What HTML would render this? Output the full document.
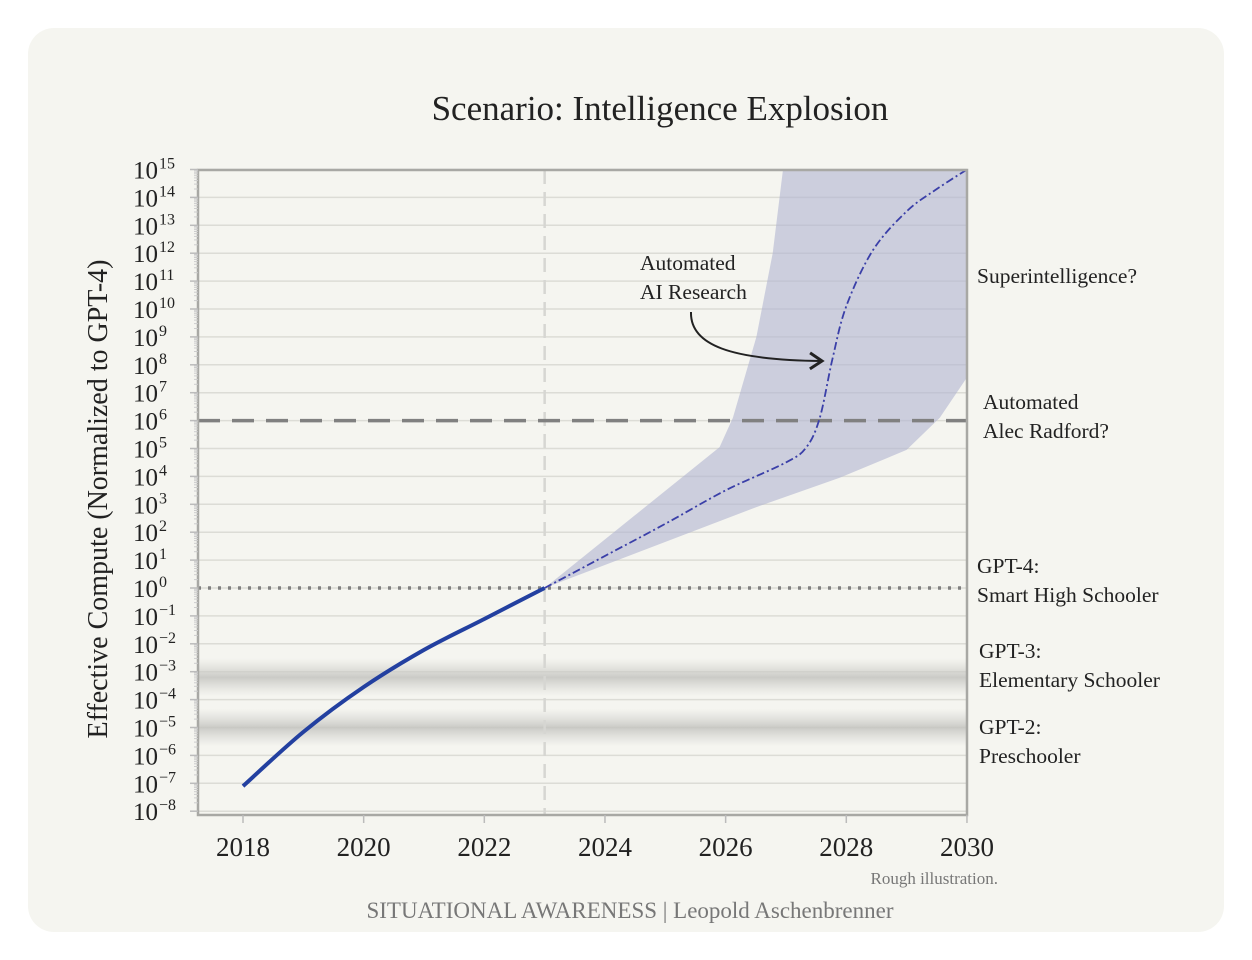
<!DOCTYPE html>
<html><head><meta charset="utf-8"><style>
body{margin:0;background:#fff;width:1252px;height:960px;overflow:hidden}
#card{position:absolute;left:28px;top:28px;width:1196px;height:904px;background:#f5f5f0;border-radius:26px}
svg{position:absolute;left:0;top:0}
text{font-family:"Liberation Serif",serif;fill:#222}
</style></head><body>
<div id="card"></div>
<svg id="chart" width="1252" height="960">
<defs>
<linearGradient id="gb" x1="0" y1="0" x2="0" y2="1">
<stop offset="0" stop-color="#d4d4d0" stop-opacity="0"/>
<stop offset="0.5" stop-color="#c6c6c2" stop-opacity="0.9"/>
<stop offset="1" stop-color="#d4d4d0" stop-opacity="0"/>
</linearGradient>
<marker id="arr" markerWidth="10" markerHeight="10" refX="8" refY="5" orient="auto"><path d="M2,1 L8,5 L2,9" fill="none" stroke="#222" stroke-width="1.5"/></marker>
</defs>
<text x="660" y="120" text-anchor="middle" font-size="35">Scenario: Intelligence Explosion</text>
<g id="g"></g>
</svg>
<script>
const histYears=[2018,2019,2020,2021,2022,2023];
const histVals=[-7.1,-5.16,-3.55,-2.22,-1.11,0];
const medYears=[2023,2024,2025,2026,2027,2027.34,2027.56,2027.77,2028,2028.44,2029,2029.5,2030];
const medVals=[0,1.15,2.3,3.5,4.5,5.05,6.1,8.2,10.1,12.1,13.5,14.3,15];
const upYears=[2023,2025.9,2026.12,2026.51,2026.78,2026.95,2030];
const upVals=[0,5.05,6.1,9.0,12.0,15,15];
const loYears=[2023,2026.51,2027.89,2029.0,2029.55,2030];
const loVals=[0,2.9,3.95,4.95,6.1,7.55];
const yTicks=[15,14,13,12,11,10,9,8,7,6,5,4,3,2,1,0,-1,-2,-3,-4,-5,-6,-7,-8];
const xTicks=[2018,2020,2022,2024,2026,2028,2030];
const refLines=[{v:6,dash:"22,12",w:3.5},{v:0,dash:"3,7",w:3.5}];
const capBands=[-3.2,-5.0];
const NS="http://www.w3.org/2000/svg";
const g=document.getElementById('g');
const X=y=>243+(y-2018)*60.33;
const Y=v=>588-v*27.9;
const L=198,R=967,T=170,B=815;
function el(t,a,p){const e=document.createElementNS(NS,t);for(const k in a)e.setAttribute(k,a[k]);(p||g).appendChild(e);return e;}
function pts(xs,vs){return xs.map((x,i)=>[X(x),Y(vs[i])]);}
function cr(p){let d='M'+p[0][0].toFixed(1)+','+p[0][1].toFixed(1);
 for(let i=0;i<p.length-1;i++){const p0=p[Math.max(0,i-1)],p1=p[i],p2=p[i+1],p3=p[Math.min(p.length-1,i+2)];
  const c1=[p1[0]+(p2[0]-p0[0])/6,p1[1]+(p2[1]-p0[1])/6],c2=[p2[0]-(p3[0]-p1[0])/6,p2[1]-(p3[1]-p1[1])/6];
  d+=` C${c1[0].toFixed(1)},${c1[1].toFixed(1)} ${c2[0].toFixed(1)},${c2[1].toFixed(1)} ${p2[0].toFixed(1)},${p2[1].toFixed(1)}`;}
 return d;}
yTicks.forEach(v=>{const l=el('line',{x1:L,x2:R,y1:Y(v),y2:Y(v),stroke:'#dcdcd6','stroke-width':1.5});
});
capBands.forEach(v=>{const r=el('rect',{x:L,y:Y(v)-19,width:R-L,height:38,fill:'url(#gb)'});
});
const vl=el('line',{x1:X(2023),x2:X(2023),y1:T,y2:B,stroke:'#d6d6d2','stroke-width':2.5,'stroke-dasharray':'14,8'});

const up=pts(upYears,upVals),lo=pts(loYears,loVals).reverse();
const pb=el('polygon',{points:up.concat(lo).map(p=>p[0].toFixed(1)+','+p[1].toFixed(1)).join(' '),fill:'#b0b4d0','fill-opacity':0.6,'stroke-linejoin':'round'});

refLines.forEach(r=>{const l=el('line',{x1:L,x2:R,y1:Y(r.v),y2:Y(r.v),stroke:'#808080','stroke-width':r.w,'stroke-dasharray':r.dash});
});
const med=el('path',{d:cr(pts(medYears,medVals)),fill:'none',stroke:'#3a3fa8','stroke-width':1.8,'stroke-dasharray':'8,3,2,3'});

const hist=el('path',{d:cr(pts(histYears,histVals)),fill:'none',stroke:'#2340a0','stroke-width':4});

const ax=el('path',{d:`M${L},${T} H${R} V${B} H${L} Z`,fill:'none',stroke:'#a8a8a4','stroke-width':2.5});

yTicks.forEach(v=>{
 el('line',{x1:L-8,x2:L,y1:Y(v),y2:Y(v),stroke:'#bbb','stroke-width':1.5});
 if(v>-8)for(let k=2;k<10;k++){const yy=Y(v-1+Math.log10(k));el('line',{x1:L-4,x2:L,y1:yy,y2:yy,stroke:'#ccc','stroke-width':1});}
 const t=el('text',{x:L-40,y:Y(v)+9,'text-anchor':'end','font-size':25});
 t.textContent='10';
 
 const s=el('text',{x:L-39,y:Y(v)-1,'text-anchor':'start','font-size':16});
 s.textContent=(v<0?'\u2212'+(-v):String(v));
 
});
xTicks.forEach(y=>{
 el('line',{x1:X(y),x2:X(y),y1:B,y2:B+8,stroke:'#bbb','stroke-width':1.5});
 const t=el('text',{x:X(y),y:B+41,'text-anchor':'middle','font-size':27});t.textContent=y;
 
});
function txt(x,y,s,fs,name,anchor,fill){const t=el('text',{x:x,y:y,'font-size':fs,'text-anchor':anchor||'start'});if(fill)t.style.fill=fill;t.textContent=s;return t;}
const yt=txt(0,0,'Effective Compute (Normalized to GPT-4)',28,'y-axis-title','middle');
yt.setAttribute('transform','translate(107,499) rotate(-90)');
const fs=21.5;
txt(977,283,'Superintelligence?',fs,'label-superintelligence');
txt(983,409,'Automated',fs,'label-radford-1');
txt(983,438,'Alec Radford?',fs,'label-radford-2');
txt(977,573,'GPT-4:',fs,'label-gpt4-1');
txt(977,602,'Smart High Schooler',fs,'label-gpt4-2');
txt(979,658,'GPT-3:',fs,'label-gpt3-1');
txt(979,687,'Elementary Schooler',fs,'label-gpt3-2');
txt(979,734,'GPT-2:',fs,'label-gpt2-1');
txt(979,763,'Preschooler',fs,'label-gpt2-2');
txt(640,270,'Automated',fs,'annotation-1');
txt(640,299,'AI Research',fs,'annotation-2');
const a=el('path',{d:'M691,312 C690,345 730,360 822,361',fill:'none',stroke:'#222','stroke-width':2,'marker-end':'url(#arr)'});

txt(998,884,'Rough illustration.',17,'footnote','end','#777');
txt(630,918,'SITUATIONAL AWARENESS | Leopold Aschenbrenner',23,'credit','middle','#777');
</script>
</body></html>
